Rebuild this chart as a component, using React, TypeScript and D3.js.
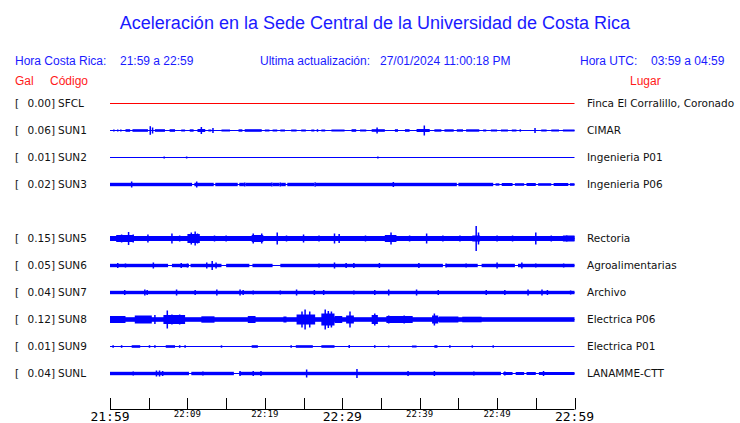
import React from "react";
import * as d3 from "d3";

const stationCodes = ["SFCL", "SUN1", "SUN2", "SUN3", null, "SUN5", "SUN6", "SUN7", "SUN8", "SUN9", "SUNL"];
const galValues = ["0.00", "0.06", "0.01", "0.02", null, "0.15", "0.05", "0.04", "0.12", "0.01", "0.04"];
const places = ["Finca El Corralillo, Coronado", "CIMAR", "Ingenieria P01", "Ingenieria P06", null, "Rectoria", "Agroalimentarias", "Archivo", "Electrica P06", "Electrica P01", "LANAMME-CTT"];
const traceColors = ["#ff0000", "#0000ff", "#0000ff", "#0000ff", null, "#0000ff", "#0000ff", "#0000ff", "#0000ff", "#0000ff", "#0000ff"];

// amplitude envelope segments [startMinute, endMinute, halfAmplitude]
const bands: number[][][] = [
  [],
  [[2, 2.6, 1.3], [2.9, 4.9, 1.3], [5.8, 7.1, 1.3], [7.7, 8.4, 1.3], [9.2, 9.7, 1], [10.3, 10.8, 1.2], [11.3, 12.3, 1.5], [12.7, 13.1, 1], [14.4, 15.5, 1], [16.6, 17.1, 1.2], [17.4, 19.6, 1.3], [20, 20.6, 1], [21, 21.6, 1], [22, 22.6, 1], [23.4, 24.1, 1], [24.7, 25.3, 1], [26, 26.4, 1], [27.3, 27.8, 1], [28.6, 30.3, 1], [31.2, 31.8, 1.3], [32.3, 33.1, 1], [33.8, 35.5, 1.3], [36.8, 37.2, 1.3], [38.1, 38.7, 1.3], [39.6, 41.3, 1.5], [41.9, 42.8, 1.2], [43.2, 44.4, 1.2], [44.8, 45.6, 1.2], [46, 47.7, 1.2], [48.2, 48.6, 1], [49.2, 50, 1], [50.5, 51.4, 1], [51.9, 52.5, 1], [55.7, 56.4, 1], [57, 58, 1], [58.5, 60, 1]],
  [],
  [[0, 10.6, 1.7], [10.9, 13.4, 1.7], [13.6, 16.5, 1.7], [16.7, 17.3, 1.7], [17.5, 20.8, 1.7], [21, 21.9, 1.7], [22.1, 22.7, 1.7], [22.9, 26.4, 1.7], [26.6, 44.8, 1.7], [45, 49.5, 1.7], [49.8, 50.3, 1.2], [50.6, 52, 1.5], [52.3, 53.5, 1.3], [53.8, 55, 1.5], [55.3, 57, 1.3], [57.3, 59.2, 1.5], [59.4, 60, 1.3]],
  [],
  [[0, 60, 2.5], [0.8, 3, 3.5], [10, 11.6, 4.5], [18.3, 19.8, 3.5], [35.5, 37, 3.5], [46.8, 47.8, 3], [58.5, 60, 3]],
  [[0, 7.5, 1.7], [8, 10.2, 1.7], [10.4, 14.4, 1.7], [15, 18, 1.7], [18.4, 21, 1.7], [22, 43, 1.7], [43.4, 47.5, 1.7], [48, 52.3, 1.7], [52.7, 60, 1.7]],
  [[0, 60, 1.7]],
  [[0, 60, 2.3], [0, 2, 3.5], [3.2, 5.4, 4], [6.9, 9.7, 4.5], [11.8, 13.5, 3.2], [17.8, 18.8, 3.5], [22.4, 22.8, 3], [24.1, 26.5, 5], [27.3, 29, 6], [29, 30, 3.5], [30.5, 31.5, 4], [33.8, 34.6, 4.5], [35.7, 39.1, 3.5], [41.6, 42.4, 4], [42.5, 45, 3], [45.5, 48, 2.8]],
  [[2.8, 3.9, 1.3], [7.2, 8.4, 1.3], [18.3, 19.1, 1.3], [24, 26.2, 1.3], [27.3, 29, 1.3], [39, 39.6, 1], [41.9, 42.3, 1.3]],
  [[0, 10.2, 1.7], [10.5, 16, 1.7], [16.7, 50.5, 1.7], [50.8, 52, 1.5], [52.4, 53.5, 1.5], [53.8, 55, 1.5], [55.4, 60, 1.5]],
];

// isolated peaks [minute, halfAmplitude]
const peaks: number[][][] = [
  [],
  [[0.5, 1], [1, 1], [1.4, 1], [5.2, 4.3], [5.5, 3], [11.8, 3.5], [13.3, 2.5], [26.8, 1.3], [34.5, 3], [40.6, 5], [53, 1.2], [54.9, 2.5]],
  [[7, 1], [9.9, 1], [34.6, 1]],
  [[2.8, 3], [11.2, 3], [17.4, 2], [20.9, 2], [22, 2], [26.5, 2.2], [36.6, 2.5]],
  [],
  [[1.5, 4], [2.4, 6.5], [3, 4], [4.9, 4], [8, 5], [9, 3], [10.5, 6], [11, 7], [11.3, 5], [13.5, 3], [15, 3], [18.5, 5], [19.6, 5], [21.6, 6], [22.8, 3], [25, 4], [27, 3], [29, 5], [29.6, 4.5], [33, 3], [36.3, 6], [38.7, 3], [40.9, 5], [43, 3], [45.2, 3], [47.3, 12.5], [47.6, 6], [50, 3], [52, 3], [55, 6], [57, 3], [59, 3]],
  [[1, 2.5], [2, 2], [5.6, 3], [9.2, 2.5], [10, 2], [12.5, 3], [13.2, 4.5], [13.7, 3], [27, 2], [29, 3], [30.5, 2.5], [31.5, 2.5], [34.8, 2.5], [39.9, 2.5], [43.4, 2], [46, 2], [50, 3], [53.2, 3], [55, 2], [58.6, 2]],
  [[1.9, 2.5], [4.5, 3], [4.8, 2.5], [8.6, 3], [11, 2.5], [13.8, 3], [16.8, 3], [17.2, 2.5], [18.5, 2], [22, 2], [24.1, 3], [26.4, 2.5], [27.6, 2.5], [31.5, 2], [34.2, 2.5], [36, 3], [39.6, 3], [42.4, 2.5], [48.6, 2.5], [51, 2.5], [54, 3], [55.8, 3], [56.5, 2.5], [59.5, 2]],
  [[5.8, 4.5], [7.4, 9], [8, 5], [9, 5], [24.8, 8], [25.2, 10], [25.8, 8], [27.8, 10], [28.2, 8.5], [28.6, 8], [31, 8], [34.2, 6], [36, 4], [38, 4], [41.9, 6]],
  [[0.4, 1.3], [1.5, 1.3], [5.1, 1.3], [5.8, 1.3], [9, 1.3], [9.7, 1.3], [14.4, 1.2], [23.4, 1.3], [30.9, 1.5], [34.2, 1.3], [36, 1], [43.9, 1.3], [46.8, 1.2], [49.5, 1.2]],
  [[3, 2], [6, 3], [6.4, 3], [6.8, 2.5], [12, 2], [16.8, 2.5], [18.5, 2.5], [19.5, 2.5], [25.4, 4], [31.9, 4.5], [38.5, 2.5], [41.9, 2.5], [47, 2], [51, 2], [56, 2.5]],
];

const tickMinutes = [0, 5, 10, 15, 20, 25, 30, 35, 40, 45, 50, 55, 60];
const tickLabels: Record<number, string> = { 0: "21:59", 10: "22:09", 20: "22:19", 30: "22:29", 40: "22:39", 50: "22:49", 60: "22:59" };
const majorLabels = [0, 30, 60];

const title = "Aceleración en la Sede Central de la Universidad de Costa Rica";

export default function App() {
  const W = 740, H = 423;
  const x = d3.scaleLinear().domain([0, 60]).range([110, 574.5]);
  const row = d3.scaleLinear().domain([0, 10]).range([103, 373]);
  const amp = d3.scaleLinear().domain([0, 1]).range([0, 1]);
  const blue = "#1a1aff";
  const sans = "'Liberation Sans', Arial, sans-serif";
  const dv = "'DejaVu Sans', sans-serif";
  const mono = "'DejaVu Sans Mono', monospace";
  const axisY = 409;

  return (
    <svg width={W} height={H} style={{ position: "absolute", left: 0, top: 0, background: "#fff" }}>
      <text x={375} y={29} textAnchor="middle" fontFamily={sans} fontSize={18} fill={blue}>{title}</text>
      <g fontFamily={sans} fontSize={12} fill={blue}>
        <text x={15} y={65}>Hora Costa Rica:</text>
        <text x={120} y={65}>21:59 a 22:59</text>
        <text x={260} y={65}>Ultima actualización:</text>
        <text x={380} y={65}>27/01/2024 11:00:18 PM</text>
        <text x={580} y={65}>Hora UTC:</text>
        <text x={651} y={65}>03:59 a 04:59</text>
      </g>
      <g fontFamily={sans} fontSize={12} fill="#ff1a1a">
        <text x={15} y={85}>Gal</text>
        <text x={50} y={85}>Código</text>
        <text x={630} y={85}>Lugar</text>
      </g>
      {stationCodes.map((code, i) => {
        if (!code) return null;
        const y0 = Math.round(row(i)) + 0.5;
        const col = traceColors[i] as string;
        return (
          <g key={code}>
            <g fontFamily={dv} fontSize={10.5} fill="#111">
              <text x={15} y={y0 + 3.5}>[</text>
              <text x={55} y={y0 + 3.5} textAnchor="end">{galValues[i]}]</text>
              <text x={58} y={y0 + 3.5}>{code}</text>
              <text x={587} y={y0 + 3.5}>{places[i]}</text>
            </g>
            <line x1={x(0)} x2={x(60)} y1={y0} y2={y0} stroke={col} strokeWidth={1} />
            {bands[i].map((b, j) => (
              <rect key={"b" + j} x={x(b[0])} width={x(b[1]) - x(b[0])} y={y0 - amp(b[2])} height={2 * amp(b[2])} fill={col} />
            ))}
            {peaks[i].map((p, j) => (
              <rect key={"p" + j} x={x(p[0]) - 0.75} width={1.5} y={y0 - amp(p[1])} height={2 * amp(p[1])} fill={col} />
            ))}
          </g>
        );
      })}
      <g>
        <line x1={x(0)} x2={x(60)} y1={axisY + 0.5} y2={axisY + 0.5} stroke="#000" />
        {tickMinutes.map((m) => (
          <line key={m} x1={Math.round(x(m)) + 0.5} x2={Math.round(x(m)) + 0.5} y1={axisY - 11} y2={axisY + 0.5} stroke="#000" />
        ))}
        {tickMinutes.filter((m) => tickLabels[m]).map((m) => {
          const major = majorLabels.includes(m);
          return (
            <text key={"l" + m} x={x(m)} y={major ? 421 : 417} textAnchor="middle" fontFamily={mono} fontSize={major ? 13 : 9} fill="#000">
              {tickLabels[m]}
            </text>
          );
        })}
      </g>
    </svg>
  );
}
